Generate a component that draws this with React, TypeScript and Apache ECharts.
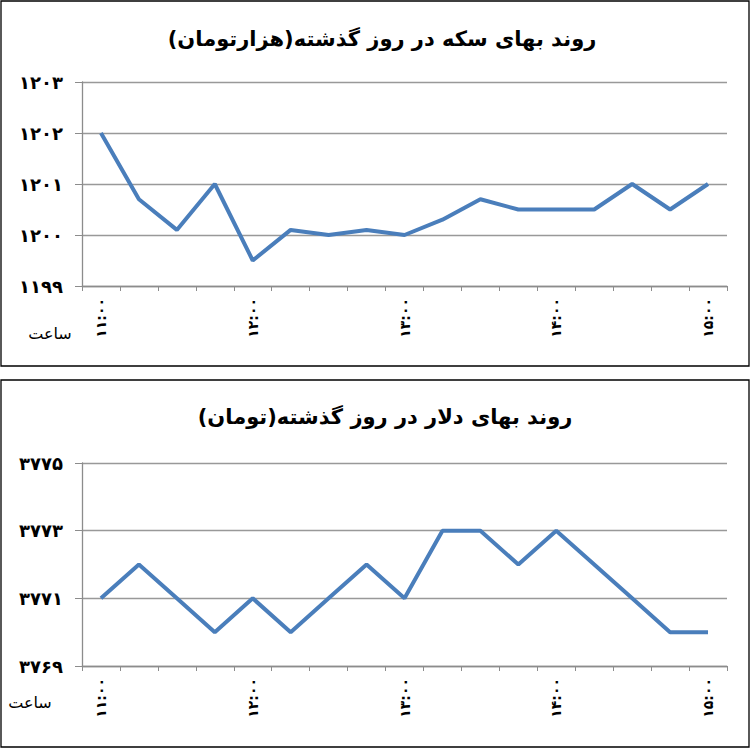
import React, { useEffect, useRef } from "react";
import * as echarts from "echarts";

const times = [
  "۱۱:۰۰", "۱۱:۱۵", "۱۱:۳۰", "۱۱:۴۵",
  "۱۲:۰۰", "۱۲:۱۵", "۱۲:۳۰", "۱۲:۴۵",
  "۱۳:۰۰", "۱۳:۱۵", "۱۳:۳۰", "۱۳:۴۵",
  "۱۴:۰۰", "۱۴:۱۵", "۱۴:۳۰", "۱۴:۴۵",
  "۱۵:۰۰",
];

const coinValues = [
  1202, 1200.7, 1200.1, 1201, 1199.5, 1200.1, 1200, 1200.1, 1200,
  1200.3, 1200.7, 1200.5, 1200.5, 1200.5, 1201, 1200.5, 1201,
];

const dollarValues = [
  3771, 3772, 3771, 3770, 3771, 3770, 3771, 3772, 3771,
  3773, 3773, 3772, 3773, 3772, 3771, 3770, 3770,
];

const coinTitle = "روند بهای سکه در روز گذشته(هزارتومان)";
const dollarTitle = "روند بهای دلار در روز گذشته(تومان)";
const xAxisName = "ساعت";

const coinAxis = { min: 1199, max: 1203, interval: 1 };
const dollarAxis = { min: 3769, max: 3775, interval: 2 };

const toPersian = (v: number | string) =>
  String(v).replace(/[0-9]/g, (d) => "۰۱۲۳۴۵۶۷۸۹"[Number(d)]);

const FONT = "DejaVu Sans";
const LINE = "#4A7EBB";
const GRAY = "#8C8C8C";

export default function App() {
  const ref = useRef<HTMLDivElement>(null);

  useEffect(() => {
    document.body.style.margin = "0";
    const chart = echarts.init(ref.current!, null, { renderer: "svg" });

    const xAxisBase = (gridIndex: number) => ({
      type: "category" as const,
      gridIndex,
      data: times,
      boundaryGap: true,
      axisLine: { lineStyle: { color: GRAY, width: 1.3 } },
      axisTick: { show: true, interval: 0, length: 5, lineStyle: { color: GRAY } },
      axisLabel: {
        interval: 3,
        rotate: 90,
        margin: 12,
        fontFamily: FONT,
        fontWeight: "bold",
        fontSize: 14,
        color: "#000",
      },
    });

    const yAxisBase = (gridIndex: number, cfg: { min: number; max: number; interval: number }) => ({
      type: "value" as const,
      gridIndex,
      min: cfg.min,
      max: cfg.max,
      interval: cfg.interval,
      axisLine: { show: true, lineStyle: { color: GRAY, width: 1.3 } },
      axisTick: { show: true, length: 7, lineStyle: { color: GRAY } },
      splitLine: { show: true, lineStyle: { color: "#999", width: 1.3 } },
      axisLabel: {
        margin: 19,
        formatter: (v: number) => toPersian(v),
        fontFamily: FONT,
        fontWeight: "bold",
        fontSize: 18,
        color: "#000",
      },
    });

    chart.setOption({
      animation: false,
      backgroundColor: "#fff",
      title: [
        {
          text: coinTitle,
          left: 377,
          top: 23,
          textAlign: "center",
          textStyle: { fontFamily: FONT, fontWeight: "bold", fontSize: 21, color: "#000" },
        },
        {
          text: dollarTitle,
          left: 380,
          top: 401,
          textAlign: "center",
          textStyle: { fontFamily: FONT, fontWeight: "bold", fontSize: 21, color: "#000" },
        },
      ],
      grid: [
        { left: 82, top: 82, width: 645, height: 204 },
        { left: 82, top: 463, width: 645, height: 203 },
      ],
      xAxis: [xAxisBase(0), xAxisBase(1)],
      yAxis: [yAxisBase(0, coinAxis), yAxisBase(1, dollarAxis)],
      series: [
        {
          type: "line",
          xAxisIndex: 0,
          yAxisIndex: 0,
          data: coinValues,
          showSymbol: false,
          symbol: "none",
          lineStyle: { color: LINE, width: 4 },
        },
        {
          type: "line",
          xAxisIndex: 1,
          yAxisIndex: 1,
          data: dollarValues,
          showSymbol: false,
          symbol: "none",
          lineStyle: { color: LINE, width: 4 },
        },
      ],
      graphic: [
        {
          type: "rect",
          shape: { x: 1, y: 1, width: 748, height: 365 },
          style: { fill: "none", stroke: "#000", lineWidth: 1.3 },
          silent: true,
        },
        {
          type: "rect",
          shape: { x: 1, y: 380, width: 748, height: 367 },
          style: { fill: "none", stroke: "#000", lineWidth: 1.3 },
          silent: true,
        },
        {
          type: "text",
          x: 50,
          y: 333,
          style: {
            text: xAxisName,
            fontFamily: FONT,
            fontSize: 16,
            fill: "#000",
            align: "center",
            verticalAlign: "middle",
          },
        },
        {
          type: "text",
          x: 30,
          y: 702,
          style: {
            text: xAxisName,
            fontFamily: FONT,
            fontSize: 16,
            fill: "#000",
            align: "center",
            verticalAlign: "middle",
          },
        },
      ],
    });

    return () => chart.dispose();
  }, []);

  return <div ref={ref} style={{ width: 750, height: 748 }} />;
}
